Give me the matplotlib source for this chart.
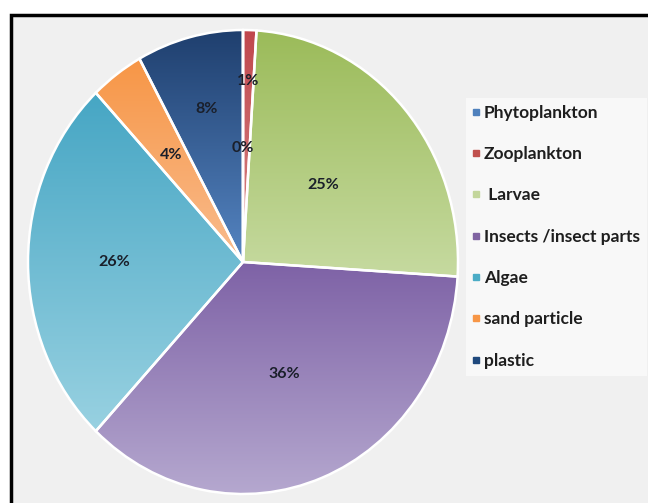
import matplotlib
matplotlib.use("Agg")
import matplotlib.pyplot as plt
from matplotlib.patches import Rectangle
from matplotlib.lines import Line2D
from matplotlib.colors import LinearSegmentedColormap
import numpy as np

plt.rcParams['font.family'] = ['Lato', 'DejaVu Sans']

labels = ['Phytoplankton', 'Zooplankton', ' Larvae', 'Insects /insect parts',
          'Algae', 'sand particle', 'plastic']
values = [0, 1, 25, 36, 26, 4, 8]
# top / bottom colour of each slice's gradient
top_colors = ['#3A6BA8', '#C0474D', '#9BBB59', '#7E62A6', '#46A6C4', '#F79646', '#1F3F6E']
bottom_colors = ['#7FA4D4', '#D98A88', '#C6DAA0', '#B5A8CF', '#98D1E1', '#F9BC8E', '#5585C2']
legend_colors = ['#4F81BD', '#C0504D', '#C3D69B', '#8064A2', '#4BACC6', '#F79646', '#1F497D']
label_r = [0.49, 0.78, 0.50, 0.52, 0.60, 0.57, 0.68]

W, H = 648, 503
fig = plt.figure(figsize=(W / 100, H / 100), dpi=100)
fig.patch.set_facecolor('white')

# grey panel with a heavy black frame (runs off the right/bottom edge)
fig.patches.append(Rectangle((11 / W, -0.1), 1.2, 1.1 - 15 / H,
                             transform=fig.transFigure, facecolor='#F0F0F0',
                             edgecolor='black', linewidth=2.5, zorder=-5))

# pie axes: slightly taller than wide
cx, cy, rx, ry = 243, 262, 215, 232
ax = fig.add_axes([(cx - rx) / W, (H - cy - ry) / H, 2 * rx / W, 2 * ry / H])
wedges, _ = ax.pie(values, startangle=90, counterclock=False, radius=1,
                   wedgeprops=dict(edgecolor='white', linewidth=1.8))
ax.set_aspect('auto')
ax.patch.set_visible(False)

grad = np.linspace(0, 1, 256).reshape(-1, 1)
for w, c0, c1 in zip(wedges, top_colors, bottom_colors):
    ext = w.get_path().get_extents()
    if ext.width == 0:
        w.set_facecolor(c0)
        continue
    cmap = LinearSegmentedColormap.from_list('g', [c0, c1])
    im = ax.imshow(grad, cmap=cmap, aspect='auto', origin='upper',
                   extent=(ext.x0, ext.x1, ext.y0, ext.y1), zorder=1)
    im.set_clip_path(w)
    w.set_facecolor('none')
    w.set_zorder(2)
ax.set_aspect('auto')
ax.set_xlim(-1, 1)
ax.set_ylim(-1, 1)

# percentage labels
for w, v, r in zip(wedges, values, label_r):
    mid = np.deg2rad((w.theta1 + w.theta2) / 2)
    ax.text(r * np.cos(mid), r * np.sin(mid), '%d%%' % v, ha='center', va='center',
            fontsize=11.5, fontweight='bold', color='#1A1F2A', zorder=3)

handles = [Line2D([], [], marker='s', linestyle='none', markersize=4,
                  markerfacecolor=c, markeredgecolor=c) for c in legend_colors]
leg = fig.legend(handles, labels, loc='upper left', bbox_to_anchor=(457 / W, 1 - 89 / H),
                 frameon=True, fancybox=False, facecolor='#F8F8F8', edgecolor='none',
                 framealpha=1, handlelength=0.4, handletextpad=0.25, labelspacing=1.46,
                 borderpad=0.4, prop=dict(size=12.5, weight='bold'))
for t in leg.get_texts():
    t.set_color('#1E1E1E')

fig.savefig('out.png', dpi=100)
